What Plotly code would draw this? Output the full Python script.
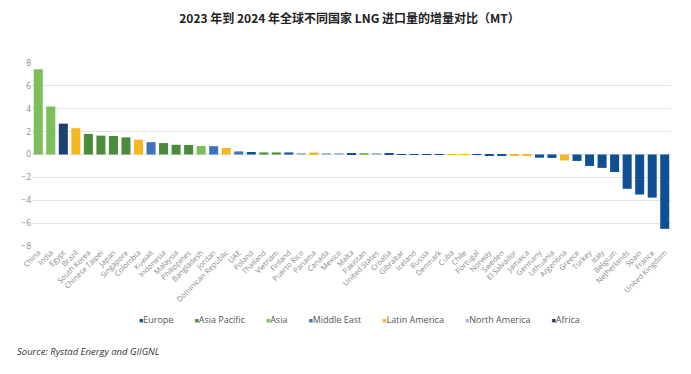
import plotly.graph_objects as go

countries = ["China", "India", "Egypt", "Brazil", "South Korea", "Chinese Taipei", "Japan",
             "Singapore", "Colombia", "Kuwait", "Indonesia", "Malaysia", "Philippines",
             "Bangladesh", "Jordan", "Dominican Republic", "UAE", "Poland", "Thailand",
             "Vietnam", "Finland", "Puerto Rico", "Panama", "Canada", "Mexico", "Malta",
             "Pakistan", "United States", "Croatia", "Gibraltar", "Iceland", "Russia",
             "Denmark", "Cuba", "Chile", "Portugal", "Norway", "Sweden", "El Salvador",
             "Jamaica", "Germany", "Lithuania", "Argentina", "Greece", "Turkey", "Italy",
             "Belgium", "Netherlands", "Spain", "France", "United Kingdom"]

values = [7.45, 4.2, 2.7, 2.3, 1.8, 1.65, 1.62, 1.5, 1.3, 1.08, 1.0, 0.85, 0.83,
          0.74, 0.73, 0.57, 0.27, 0.22, 0.18, 0.18, 0.18, 0.12, 0.17, 0.08, 0.08, 0.07,
          0.06, 0.05, 0.05, 0.03, 0.02, -0.02, -0.02, -0.03, -0.03, -0.04, -0.07, -0.08,
          -0.08, -0.08, -0.28, -0.3, -0.52, -0.56, -1.0, -1.17, -1.53, -3.0, -3.5,
          -3.77, -6.5]

regions = ["Asia", "Asia", "Africa", "Latin America", "Asia Pacific", "Asia Pacific",
           "Asia Pacific", "Asia Pacific", "Latin America", "Middle East", "Asia Pacific",
           "Asia Pacific", "Asia Pacific", "Asia", "Middle East", "Latin America",
           "Middle East", "Europe", "Asia Pacific", "Asia Pacific", "Europe",
           "North America", "Latin America", "North America", "North America", "Europe",
           "Asia", "North America", "Europe", "Europe", "Europe", "Europe", "Europe",
           "Latin America", "Latin America", "Europe", "Europe", "Europe",
           "Latin America", "Latin America", "Europe", "Europe", "Latin America",
           "Europe", "Europe", "Europe", "Europe", "Europe", "Europe", "Europe", "Europe"]

legend_order = ["Europe", "Asia Pacific", "Asia", "Middle East", "Latin America",
                "North America", "Africa"]
region_colors = {
    "Europe": "#0F4F94",
    "Asia Pacific": "#4C8A3C",
    "Asia": "#7CBD5C",
    "Middle East": "#3E72B9",
    "Latin America": "#F5B824",
    "North America": "#A1BCE0",
    "Africa": "#1E3F72",
}

y_ticks = [-8, -6, -4, -2, 0, 2, 4, 6, 8]

fig = go.Figure()
for reg in legend_order:
    xs = [c for c, r in zip(countries, regions) if r == reg]
    ys = [v for v, r in zip(values, regions) if r == reg]
    fig.add_trace(go.Bar(x=xs, y=ys, name=reg, marker_color=region_colors[reg],
                         marker_line_width=0, showlegend=False))

# compact legend: small coloured square directly before each region name
gap = "&nbsp;" * 9
legend_text = gap.join(
    f"<span style='color:{region_colors[r]};font-size:7px'>■</span>{r}"
    for r in legend_order
)

fig.update_layout(
    width=683, height=366,
    paper_bgcolor="white", plot_bgcolor="white",
    barmode="relative", bargap=0.28,
    margin=dict(l=23.5, r=19.5, t=54.5, b=128, autoexpand=False),
    font=dict(family="Open Sans, Noto Sans, sans-serif", color="#7f7f7f"),
    title=dict(text="<b>2023 年到 2024 年全球不同国家 LNG 进口量的增量对比（MT）</b>",
               x=0.5, xanchor="center", y=0.971, yanchor="middle",
               font=dict(family="Noto Sans CJK SC", size=12, color="#222222")),
    xaxis=dict(categoryorder="array", categoryarray=countries, tickangle=-45,
               tickfont=dict(size=7.5, color="#8a8a8a"), showgrid=False,
               showline=False, ticks="", automargin=False),
    yaxis=dict(range=[-8, 8], tickvals=y_ticks, gridcolor="#e3e3e3", gridwidth=1,
               zeroline=True, zerolinecolor="#e3e3e3", zerolinewidth=1,
               tickfont=dict(size=8.5, color="#8a8a8a"), ticks="", ticklen=0,
               automargin=False),
    showlegend=False,
)

fig.add_annotation(text=legend_text, xref="paper", yref="paper",
                   x=0.513, xanchor="center", y=-0.403, yanchor="middle",
                   showarrow=False, font=dict(family="Open Sans", size=9, color="#555555"))

fig.add_annotation(text="<i>Source: Rystad Energy and GIIGNL</i>", xref="paper",
                   yref="paper", x=-0.0273, xanchor="left", y=-0.578, yanchor="middle",
                   showarrow=False,
                   font=dict(family="Open Sans", size=9.5, color="#333333"))

fig.write_html("out.html")
